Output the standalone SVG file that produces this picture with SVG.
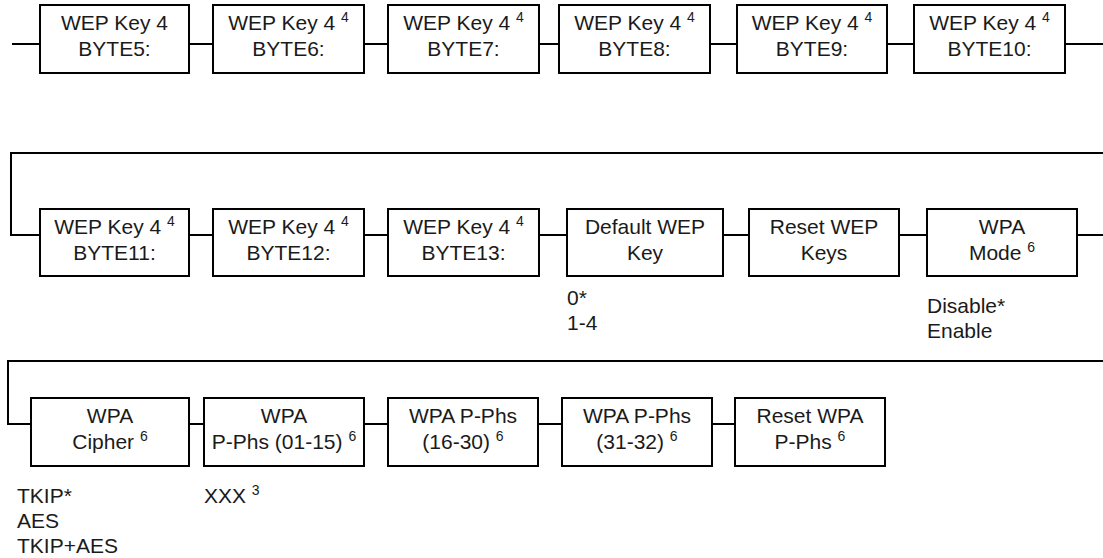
<svg xmlns="http://www.w3.org/2000/svg" width="1103" height="558" viewBox="0 0 1103 558">
<style>
.box{fill:#fff;stroke:#000;stroke-width:2}
.ln{fill:none;stroke:#000;stroke-width:2}
text{font-family:"Liberation Sans",Arial,sans-serif;font-size:21px;fill:#1a1a1a}
.c{text-anchor:middle}
.sup{font-size:14px}
</style>
<rect width="1103" height="558" fill="#fff"/>
<g id="connectors">
<path class="ln" d="M12 44H40M189 44H213M364 44H388M539 44H559M710 44H737M887 44H914M1065 44H1103"/>
<path class="ln" d="M1103 153H11V235H40M189 235H213M364 235H388M539 235H567M723 235H749M899 235H927M1077 235H1103"/>
<path class="ln" d="M1103 361H8V424H31M189 424H204M364 424H388M538 424H562M712 424H735"/>
</g>
<g id="n1"><rect class="box" x="40" y="5" width="149" height="68"/><text class="c" x="114.5" y="30">WEP Key 4</text><text class="c" x="114.5" y="56">BYTE5:</text></g>
<g id="n2"><rect class="box" x="213" y="5" width="151" height="68"/><text class="c" x="288.5" y="30">WEP Key 4 <tspan class="sup" dy="-8">4</tspan></text><text class="c" x="288.5" y="56">BYTE6:</text></g>
<g id="n3"><rect class="box" x="388" y="5" width="151" height="68"/><text class="c" x="463.5" y="30">WEP Key 4 <tspan class="sup" dy="-8">4</tspan></text><text class="c" x="463.5" y="56">BYTE7:</text></g>
<g id="n4"><rect class="box" x="559" y="5" width="151" height="68"/><text class="c" x="634.5" y="30">WEP Key 4 <tspan class="sup" dy="-8">4</tspan></text><text class="c" x="634.5" y="56">BYTE8:</text></g>
<g id="n5"><rect class="box" x="737" y="5" width="150" height="68"/><text class="c" x="812" y="30">WEP Key 4 <tspan class="sup" dy="-8">4</tspan></text><text class="c" x="812" y="56">BYTE9:</text></g>
<g id="n6"><rect class="box" x="914" y="5" width="151" height="68"/><text class="c" x="989.5" y="30">WEP Key 4 <tspan class="sup" dy="-8">4</tspan></text><text class="c" x="989.5" y="56">BYTE10:</text></g>

<g id="n7"><rect class="box" x="40" y="209" width="149" height="67"/><text class="c" x="114.5" y="234">WEP Key 4 <tspan class="sup" dy="-8">4</tspan></text><text class="c" x="114.5" y="260">BYTE11:</text></g>
<g id="n8"><rect class="box" x="213" y="209" width="151" height="67"/><text class="c" x="288.5" y="234">WEP Key 4 <tspan class="sup" dy="-8">4</tspan></text><text class="c" x="288.5" y="260">BYTE12:</text></g>
<g id="n9"><rect class="box" x="388" y="209" width="151" height="67"/><text class="c" x="463.5" y="234">WEP Key 4 <tspan class="sup" dy="-8">4</tspan></text><text class="c" x="463.5" y="260">BYTE13:</text></g>
<g id="n10"><rect class="box" x="567" y="209" width="156" height="67"/><text class="c" x="645" y="234">Default WEP</text><text class="c" x="645" y="260">Key</text>
<text x="567" y="305">0*</text><text x="567" y="330">1-4</text></g>
<g id="n11"><rect class="box" x="749" y="209" width="150" height="67"/><text class="c" x="824" y="234">Reset WEP</text><text class="c" x="824" y="260">Keys</text></g>
<g id="n12"><rect class="box" x="927" y="209" width="150" height="67"/><text class="c" x="1002" y="234">WPA</text><text class="c" x="1002" y="260">Mode <tspan class="sup" dy="-8">6</tspan></text>
<text x="927" y="313">Disable*</text><text x="927" y="338">Enable</text></g>

<g id="n13"><rect class="box" x="31" y="398" width="158" height="68"/><text class="c" x="110" y="423">WPA</text><text class="c" x="110" y="449">Cipher <tspan class="sup" dy="-8">6</tspan></text>
<text x="17" y="503">TKIP*</text><text x="17" y="528">AES</text><text x="17" y="553">TKIP+AES</text></g>
<g id="n14"><rect class="box" x="204" y="398" width="160" height="68"/><text class="c" x="284" y="423">WPA</text><text class="c" x="284" y="449">P-Phs (01-15) <tspan class="sup" dy="-8">6</tspan></text>
<text x="204" y="503">XXX <tspan class="sup" dy="-8">3</tspan></text></g>
<g id="n15"><rect class="box" x="388" y="398" width="150" height="68"/><text class="c" x="463" y="423">WPA P-Phs</text><text class="c" x="463" y="449">(16-30) <tspan class="sup" dy="-8">6</tspan></text></g>
<g id="n16"><rect class="box" x="562" y="398" width="150" height="68"/><text class="c" x="637" y="423">WPA P-Phs</text><text class="c" x="637" y="449">(31-32) <tspan class="sup" dy="-8">6</tspan></text></g>
<g id="n17"><rect class="box" x="735" y="398" width="150" height="68"/><text class="c" x="810" y="423">Reset WPA</text><text class="c" x="810" y="449">P-Phs <tspan class="sup" dy="-8">6</tspan></text></g>
</svg>
